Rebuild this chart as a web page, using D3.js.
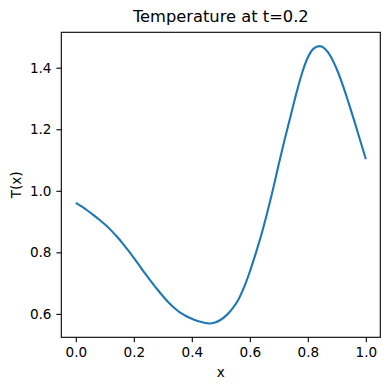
<!DOCTYPE html>
<html><head><meta charset="utf-8">
<script src="https://cdn.jsdelivr.net/npm/d3@7"></script>
<style>body{margin:0;background:#fff}svg{display:block}text{font-family:"DejaVu Sans",sans-serif;fill:#000}</style>
</head><body>
<svg id="c" width="390" height="390"></svg>
<script>
const title = "Temperature at t=0.2";
const xLabel = "x";
const yLabel = "T(x)";
const xs = [0.00,0.02,0.04,0.06,0.08,0.10,0.12,0.14,0.16,0.18,0.20,0.22,0.24,0.26,0.28,0.30,0.32,0.34,0.36,0.38,0.40,0.42,0.44,0.46,0.48,0.50,0.52,0.54,0.56,0.58,0.60,0.62,0.64,0.66,0.68,0.70,0.72,0.74,0.76,0.78,0.80,0.82,0.84,0.86,0.88,0.90,0.92,0.94,0.96,0.98,1.00];
const temps = [0.961,0.949,0.936,0.922,0.907,0.891,0.873,0.853,0.831,0.807,0.782,0.756,0.730,0.705,0.681,0.658,0.637,0.619,0.604,0.593,0.584,0.577,0.572,0.569,0.572,0.581,0.596,0.617,0.645,0.686,0.737,0.795,0.858,0.929,1.005,1.087,1.166,1.240,1.315,1.382,1.433,1.462,1.470,1.461,1.435,1.395,1.345,1.288,1.228,1.166,1.103];
const xTicks = [0.0,0.2,0.4,0.6,0.8,1.0];
const yTicks = [0.6,0.8,1.0,1.2,1.4];

const L=61.3,R=380.3,T=32.3,B=337.3;
const svg=d3.select("#c");
const data=xs.map((x,i)=>({x,y:temps[i]}));
const xmin=d3.min(xs),xmax=d3.max(xs),ymin=d3.min(temps),ymax=d3.max(temps);
const xp=(xmax-xmin)*0.05,yp=(ymax-ymin)*0.05;
const x=d3.scaleLinear().domain([xmin-xp,xmax+xp]).range([L,R]);
const y=d3.scaleLinear().domain([ymin-yp,ymax+yp]).range([B,T]);

const fs=13.6;
const xa=svg.append("g").attr("transform",`translate(0,${B})`)
  .call(d3.axisBottom(x).tickValues(xTicks).tickFormat(d3.format(".1f")).tickSize(4.9).tickPadding(4.9));
const ya=svg.append("g").attr("transform",`translate(${L},0)`)
  .call(d3.axisLeft(y).tickValues(yTicks).tickFormat(d3.format(".1f")).tickSize(4.9).tickPadding(4.9));
[xa,ya].forEach(a=>{a.select(".domain").remove();a.selectAll("line").attr("stroke","#000").attr("stroke-width",1.1);
  a.selectAll("text").style("font-size",fs+"px").style("font-family","DejaVu Sans").attr("fill","#000");});

svg.append("path").datum(data).attr("fill","none").attr("stroke","#1f77b4").attr("stroke-width",2.1)
  .attr("stroke-linejoin","round").attr("stroke-linecap","butt")
  .attr("d",d3.line().x(d=>x(d.x)).y(d=>y(d.y)).curve(d3.curveMonotoneX));

svg.append("rect").attr("x",L).attr("y",T).attr("width",R-L).attr("height",B-T)
  .attr("fill","none").attr("stroke","#000").attr("stroke-width",1.1);

svg.append("text").attr("x",(L+R)/2).attr("y",21.5).attr("text-anchor","middle").style("font-size","16.3px").text(title);
svg.append("text").attr("x",(L+R)/2).attr("y",377).attr("text-anchor","middle").style("font-size",fs+"px").text(xLabel);
svg.append("text").attr("transform",`translate(21,${(T+B)/2}) rotate(-90)`).attr("text-anchor","middle").style("font-size",fs+"px").text(yLabel);
</script>
</body></html>
